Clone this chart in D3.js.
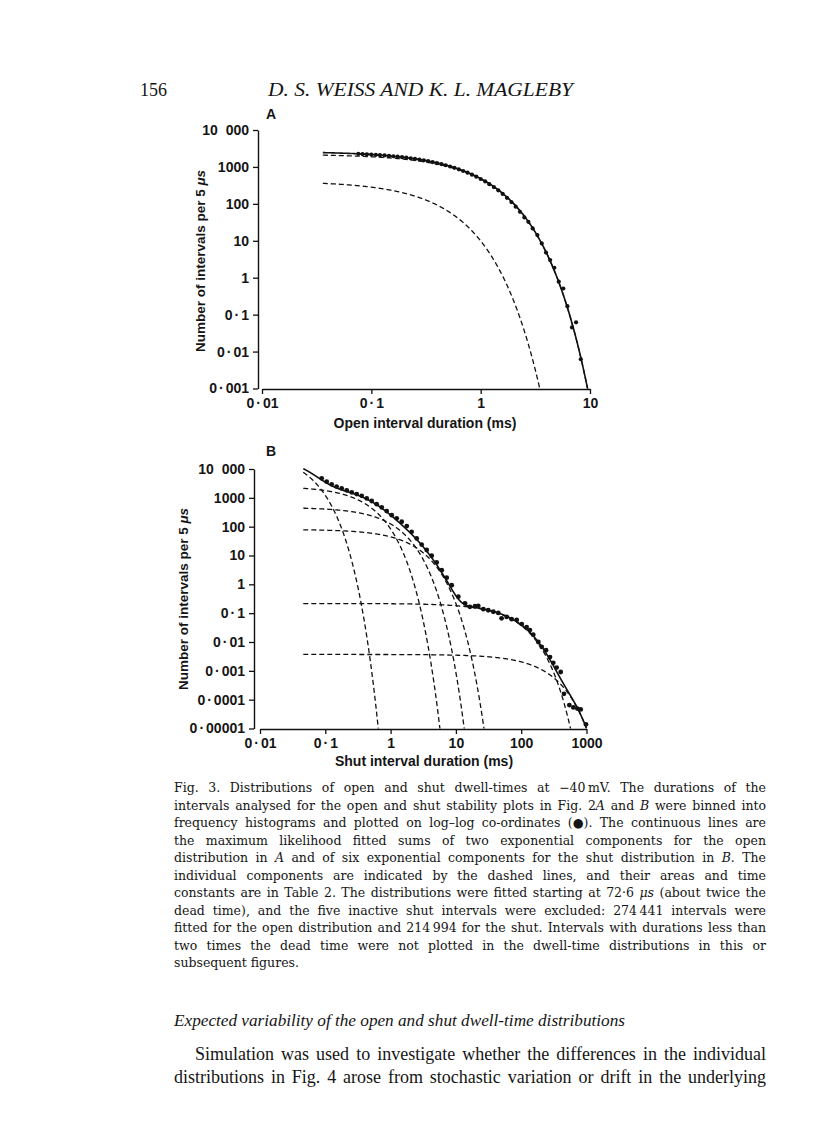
<!DOCTYPE html>
<html>
<head>
<meta charset="utf-8">
<script src="https://cdn.jsdelivr.net/npm/d3@7"></script>
<style>
  body { margin: 0; background: #fff; }
  svg { display: block; }
  .sans { font-family: "Liberation Sans", Arial, sans-serif; fill: #151515; font-weight: bold; }
  .serif { font-family: "Liberation Serif", "Times New Roman", serif; fill: #151515; }
  .cap { font-family: "DejaVu Serif", serif; fill: #151515; }
</style>
</head>
<body>
<svg id="page" width="816" height="1141"></svg>
<script>
/* global d3 */

// ---- Panel A: open interval distribution ----
const openTicksX = [0.01, 0.1, 1, 10];
const openLabelsX = ["0·01", "0·1", "1", "10"];
const openTicksY = [0.001, 0.01, 0.1, 1, 10, 100, 1000, 10000];
const openLabelsY = ["0·001", "0·01", "0·1", "1", "10", "100", "1000", "10\u2007000"];
// fitted components: amplitude at t = 0 (per 5 µs) and time constant (ms)
const openAmp = [411, 2200];
const openTau = [0.2685, 0.65];
// binned histogram points (duration ms, number per 5 µs)
const openDur = [0.076, 0.083, 0.091, 0.100, 0.110, 0.120, 0.132, 0.145, 0.159, 0.174,
  0.191, 0.209, 0.229, 0.251, 0.275, 0.302, 0.331, 0.363, 0.398, 0.437,
  0.479, 0.525, 0.575, 0.631, 0.692, 0.759, 0.832, 0.912, 1.00, 1.10,
  1.20, 1.32, 1.45, 1.59, 1.74, 1.91, 2.09, 2.29, 2.51, 2.73,
  2.99, 3.30, 3.62, 3.96, 4.32, 4.72, 5.18, 5.70, 6.21, 6.85, 7.46, 8.24];
const openCount = [2264, 2233, 2201, 2165, 2127, 2086, 2043, 1995, 1945, 1892,
  1836, 1776, 1713, 1647, 1578, 1505, 1431, 1353, 1274, 1193,
  1110, 1027, 943, 860, 777, 697, 618, 543, 471, 404,
  341, 284, 232, 186, 146, 112, 84, 61, 43, 32.7,
  21.6, 14.3, 8.5, 4.8, 3.0, 1.86, 0.78, 0.51, 0.17, 0.045, 0.062, 0.0062];

// ---- Panel B: shut interval distribution ----
const shutTicksX = [0.01, 0.1, 1, 10, 100, 1000];
const shutLabelsX = ["0·01", "0·1", "1", "10", "100", "1000"];
const shutTicksY = [0.00001, 0.0001, 0.001, 0.01, 0.1, 1, 10, 100, 1000, 10000];
const shutLabelsY = ["0·00001", "0·0001", "0·001", "0·01", "0·1", "1", "10", "100", "1000", "10\u2007000"];
const shutAmp = [36700, 2500, 464, 80, 0.216, 0.0037];
const shutTau = [0.0294, 0.294, 0.759, 1.692, 57, 169];
const shutDur = [0.088, 0.105, 0.125, 0.149, 0.178, 0.213, 0.254, 0.303, 0.361, 0.431,
  0.514, 0.612, 0.731, 0.871, 1.04, 1.24, 1.48, 1.77, 2.10, 2.51,
  2.99, 3.57, 4.26, 5.08, 6.07, 7.23, 8.63, 10.9, 13.8, 16.4,
  19.6, 22.0, 26.3, 31.3, 37.4, 44.6, 50.1, 60.0, 71.4, 85.3,
  102, 121, 136, 153, 183, 206, 240, 276, 310, 349,
  403, 452, 546, 628, 724, 815, 982];
const shutCount = [4742, 3631, 2951, 2455, 2138, 1820, 1549, 1349, 1175, 955,
  776, 603, 468, 347, 251, 195, 148, 105, 66, 39,
  24, 15.5, 9.8, 5.75, 3.09, 1.70, 0.93, 0.372, 0.219, 0.166,
  0.174, 0.178, 0.138, 0.126, 0.112, 0.102, 0.066, 0.074, 0.062, 0.058,
  0.042, 0.033, 0.026, 0.018, 0.010, 0.0068, 0.0052, 0.0030, 0.0019, 0.0013,
  0.00091, 0.00016, 0.000065, 0.000054, 0.000049, 0.000046, 0.000014];

// ---- page text ----
const headerLeft = "156";
const headerRight = "D. S. WEISS AND K. L. MAGLEBY";
// _x_ marks italic runs
const captionLines = [
  "Fig. 3. Distributions of open and shut dwell-times at \u221240\u2009mV. The durations of the",
  "intervals analysed for the open and shut stability plots in Fig. 2_A_ and _B_ were binned into",
  "frequency histograms and plotted on log\u2013log co-ordinates (\u25CF). The continuous lines are",
  "the maximum likelihood fitted sums of two exponential components for the open",
  "distribution in _A_ and of six exponential components for the shut distribution in _B_. The",
  "individual components are indicated by the dashed lines, and their areas and time",
  "constants are in Table 2. The distributions were fitted starting at 72\u00B76 _\u03BCs_ (about twice the",
  "dead time), and the five inactive shut intervals were excluded: 274\u2009441 intervals were",
  "fitted for the open distribution and 214\u2009994 for the shut. Intervals with durations less than",
  "two times the dead time were not plotted in the dwell-time distributions in this or",
  "subsequent figures."
];
const sectionHeading = "Expected variability of the open and shut dwell-time distributions";
const bodyLines = [
  "Simulation was used to investigate whether the differences in the individual",
  "distributions in Fig. 4 arose from stochastic variation or drift in the underlying"
];

const svg = d3.select("#page");
svg.append("rect").attr("width", 816).attr("height", 1141).attr("fill", "#fff");

// write a line, italic runs as tspans; justify to width if given
function writeLine(g, str, x, y, size, width, cls, italicAll) {
  const t = g.append("text").attr("class", cls)
    .attr("x", x).attr("y", y).attr("font-size", size);
  str.split("_").forEach((part, i) => {
    if (!part) return;
    t.append("tspan").text(part)
      .attr("font-style", (i % 2 === 1) !== !!italicAll ? "italic" : null);
  });
  if (width) {
    const natural = t.node().getComputedTextLength();
    const gaps = (str.match(/ /g) || []).length;
    let ws = gaps ? (width - natural) / gaps : 0;
    if (ws < -1.2) {
      ws = -1.2;
      t.attr("textLength", width).attr("lengthAdjust", "spacingAndGlyphs");
    }
    t.attr("word-spacing", ws);
  }
  return t;
}

const txt = svg.append("g");
writeLine(txt, headerLeft, 140, 96, 18, null, "serif");
writeLine(txt, headerRight, 268, 96, 18, null, "serif", true)
  .attr("textLength", 305).attr("lengthAdjust", "spacingAndGlyphs");

captionLines.forEach((line, i) => {
  const last = i === captionLines.length - 1;
  writeLine(txt, line, 174, 792 + i * 17.5, 12.5, last ? null : 592, "cap");
});
writeLine(txt, sectionHeading, 174, 1026, 16, null, "serif", true)
  .attr("textLength", 451).attr("lengthAdjust", "spacingAndGlyphs");
writeLine(txt, bodyLines[0], 195, 1060, 18, 571, "serif");
writeLine(txt, bodyLines[1], 174, 1083, 18, 592, "serif");

// tick labels with a raised decimal point: open up the space round the dot a little
function styleTicks(s) {
  s.select(".domain").attr("stroke", "#111").attr("stroke-width", 1.4);
  s.selectAll(".tick line").attr("stroke", "#111").attr("stroke-width", 1.3);
  s.selectAll("text").attr("class", "sans").attr("font-size", 14)
    .attr("font-family", null).attr("fill", "#151515")
    .each(function () {
      const str = this.textContent;
      if (str.indexOf("·") < 0) return;
      const [a, b] = str.split("·");
      const t = d3.select(this).text(null);
      t.append("tspan").text(a);
      t.append("tspan").attr("dx", 2).text("·");
      t.append("tspan").attr("dx", 2).text(b);
    });
}

// ---- chart panels ----
function drawPanel(cfg) {
  const g = svg.append("g");
  const x = d3.scaleLog().domain(cfg.xDomain).range(cfg.xRange);
  const y = d3.scaleLog().domain(cfg.yDomain).range(cfg.yRange);

  const clipId = "clip-" + cfg.id;
  svg.append("clipPath").attr("id", clipId).append("rect")
    .attr("x", cfg.axisX).attr("y", cfg.yRange[1] - 10)
    .attr("width", cfg.xRange[1] - cfg.axisX + 10)
    .attr("height", cfg.yRange[0] - cfg.yRange[1] + 10);

  // y axis
  g.append("g")
    .attr("transform", `translate(${cfg.axisX},0)`)
    .call(d3.axisLeft(y).tickValues(cfg.yTicks).tickSize(5).tickSizeOuter(0)
      .tickPadding(4).tickFormat((d, i) => cfg.yLabels[i]))
    .call(styleTicks);

  // x axis
  g.append("g")
    .attr("transform", `translate(0,${cfg.yRange[0] + 0.5})`)
    .call(d3.axisBottom(x).tickValues(cfg.xTicks).tickSize(5).tickSizeOuter(0)
      .tickPadding(4).tickFormat((d, i) => cfg.xLabels[i]))
    .call(styleTicks);

  // axis titles
  g.append("text").attr("class", "sans").attr("font-size", 14)
    .attr("text-anchor", "middle")
    .attr("x", cfg.xTitlePos[0]).attr("y", cfg.xTitlePos[1])
    .text(cfg.xTitle);
  const yt = g.append("text").attr("class", "sans").attr("font-size", 13.5)
    .attr("text-anchor", "middle")
    .attr("transform", `translate(${cfg.yTitlePos[0]},${cfg.yTitlePos[1]}) rotate(-90)`);
  yt.append("tspan").text("Number of intervals per 5 ");
  yt.append("tspan").attr("font-style", "italic").text("\u03BCs");

  g.append("text").attr("class", "sans").attr("font-size", 14)
    .attr("x", cfg.letterPos[0]).attr("y", cfg.letterPos[1]).text(cfg.letter);

  // fitted curves
  const plot = g.append("g").attr("clip-path", `url(#${clipId})`);
  const ymin = cfg.yDomain[0] * 0.4;
  const sample = (fn) => {
    const pts = [];
    const l0 = Math.log10(cfg.tStart), l1 = Math.log10(cfg.xDomain[1]);
    for (let l = l0; l <= l1; l += 0.001) {
      const t = Math.pow(10, l), v = fn(t);
      pts.push([t, v]);
      if (v < ymin) break;
    }
    return pts;
  };
  const line = d3.line().x(d => x(d[0])).y(d => y(d[1]));

  cfg.amp.forEach((a, i) => {
    plot.append("path")
      .attr("d", line(sample(t => a * Math.exp(-t / cfg.tau[i]))))
      .attr("fill", "none").attr("stroke", "#111").attr("stroke-width", 1.3)
      .attr("stroke-dasharray", "5,3");
  });
  plot.append("path")
    .attr("d", line(sample(t => d3.sum(cfg.amp, (a, i) => a * Math.exp(-t / cfg.tau[i])))))
    .attr("fill", "none").attr("stroke", "#111").attr("stroke-width", 1.6);

  plot.selectAll("circle.pt").data(cfg.dur).join("circle")
    .attr("class", "pt")
    .attr("cx", d => x(d))
    .attr("cy", (d, i) => y(cfg.count[i]))
    .attr("r", cfg.dotR).attr("fill", "#111");
}

drawPanel({
  id: "open", letter: "A", letterPos: [266, 119],
  xDomain: [0.01, 10], xRange: [262, 590],
  yDomain: [0.001, 10000], yRange: [388.5, 130],
  axisX: 258, tStart: 0.036, dotR: 2.1,
  xTicks: openTicksX, xLabels: openLabelsX, yTicks: openTicksY, yLabels: openLabelsY,
  amp: openAmp, tau: openTau, dur: openDur, count: openCount,
  xTitle: "Open interval duration (ms)", xTitlePos: [425, 428], yTitlePos: [205, 261]
});

drawPanel({
  id: "shut", letter: "B", letterPos: [266, 456],
  xDomain: [0.01, 1000], xRange: [260, 586.5],
  yDomain: [0.00001, 10000], yRange: [728.5, 469],
  axisX: 254, tStart: 0.046, dotR: 2.4,
  xTicks: shutTicksX, xLabels: shutLabelsX, yTicks: shutTicksY, yLabels: shutLabelsY,
  amp: shutAmp, tau: shutTau, dur: shutDur, count: shutCount,
  xTitle: "Shut interval duration (ms)", xTitlePos: [424, 766], yTitlePos: [188, 599]
});
</script>
</body>
</html>
